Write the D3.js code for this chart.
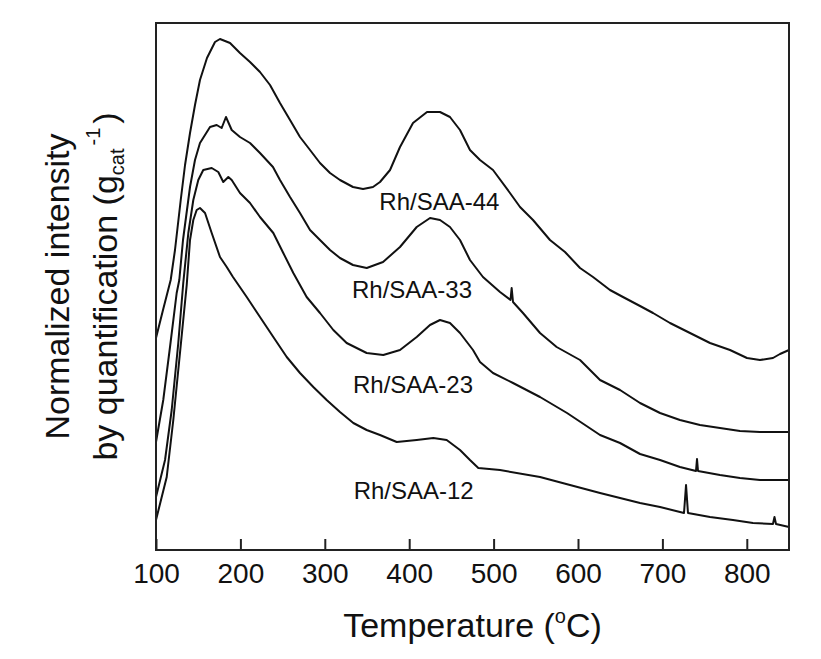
<!DOCTYPE html>
<html>
<head>
<meta charset="utf-8">
<script src="https://cdn.jsdelivr.net/npm/d3@7"></script>
<style>
  html, body { margin: 0; padding: 0; background: #fff; }
  svg { display: block; font-family: "Liberation Sans", Arial, sans-serif; }
</style>
</head>
<body>
<svg id="chart" width="821" height="659"></svg>
<script>
// ---- data (temperature °C, normalized intensity, arbitrary units) ----
const xTicks = [100, 200, 300, 400, 500, 600, 700, 800];
const seriesNames = ["Rh/SAA-44", "Rh/SAA-33", "Rh/SAA-23", "Rh/SAA-12"];

const saa44 = [
  [100,2.12],[108.3,2.40],[117.4,2.70],[122.5,3.00],[129.3,3.50],[134.4,3.85],[140.3,4.17],
  [146.2,4.45],[152.1,4.70],[160.4,4.92],[169.9,5.08],[175.8,5.11],[181.8,5.09],[187.7,5.07],
  [199.5,4.97],[211.4,4.88],[223.2,4.78],[235.1,4.65],[246.9,4.47],[258.8,4.30],[270.6,4.13],
  [282.5,4.00],[294.3,3.87],[306.2,3.77],[318.0,3.70],[333.4,3.63],[345.3,3.61],[357.1,3.63],
  [365.4,3.68],[377.3,3.80],[389.1,4.03],[404.5,4.27],[421.1,4.38],[436.5,4.38],[448.3,4.33],
  [460.2,4.20],[472.0,4.00],[483.9,3.90],[499.3,3.80],[519.4,3.57],[531.3,3.43],[546.7,3.30],
  [566.8,3.10],[584.6,2.98],[602.4,2.82],[617.8,2.73],[637.9,2.60],[653.3,2.53],[673.5,2.44],
  [688.9,2.37],[709.0,2.27],[732.7,2.17],[756.4,2.07],[780.1,2.00],[800.2,1.92],[815.6,1.90],
  [831.0,1.92],[839.3,1.96],[850,2.00]
];
const saa33 = [
  [100,1.08],[108.6,1.50],[116.6,2.03],[124.5,2.57],[127.6,2.70],[132.0,3.10],[140.3,3.63],
  [146.2,3.90],[152.1,4.07],[164.0,4.23],[171.9,4.25],[177.8,4.22],[182.9,4.33],[189.7,4.20],
  [199.5,4.13],[211.4,4.07],[223.2,3.97],[238.6,3.83],[246.9,3.70],[258.8,3.53],[270.6,3.37],
  [282.5,3.20],[294.3,3.10],[306.2,3.00],[318.0,2.92],[333.4,2.85],[349.7,2.82],[369.0,2.88],
  [389.1,3.03],[408.9,3.23],[424.7,3.32],[436.5,3.30],[448.3,3.23],[460.2,3.10],[472.0,2.90],
  [487.4,2.73],[507.6,2.58],[520.0,2.50],[521.4,2.62],[523.0,2.48],[534.8,2.37],[555.0,2.17],
  [574.7,2.03],[602.4,1.90],[626.1,1.70],[649.8,1.60],[673.5,1.47],[697.2,1.37],[720.8,1.30],
  [744.5,1.25],[768.2,1.22],[791.9,1.19],[815.6,1.18],[850,1.18]
];
const saa23 = [
  [100,0.53],[110.7,0.90],[118.6,1.40],[126.4,2.07],[132.3,2.67],[138.3,3.17],[144.2,3.50],
  [150.1,3.70],[156.0,3.80],[166.0,3.82],[173.8,3.78],[179.7,3.68],[185.7,3.73],[189.7,3.70],
  [199.5,3.57],[211.4,3.47],[223.2,3.33],[239.0,3.17],[250.8,2.97],[262.7,2.77],[278.5,2.53],
  [294.3,2.37],[310.1,2.20],[325.9,2.07],[349.6,1.97],[369.3,1.95],[389.1,2.00],[408.9,2.13],
  [424.6,2.25],[436.5,2.30],[448.3,2.27],[460.2,2.17],[475.6,2.00],[483.9,1.88],[499.3,1.77],
  [523.0,1.67],[555.0,1.53],[587.0,1.37],[626.1,1.15],[649.8,1.07],[673.5,0.96],[697.2,0.90],
  [720.8,0.83],[739.8,0.79],[741.0,0.91],[742.2,0.79],[768.2,0.75],[791.9,0.72],[815.6,0.70],
  [850,0.70]
];
const saa12 = [
  [100,0.30],[112.7,0.73],[120.5,1.30],[128.4,1.97],[136.4,2.65],[140.3,3.10],[144.2,3.30],
  [148.2,3.40],[152.1,3.42],[158.1,3.37],[166.0,3.17],[175.8,2.93],[183.8,2.83],[191.2,2.73],
  [207.5,2.53],[223.2,2.33],[239.0,2.13],[254.9,1.93],[270.6,1.77],[286.4,1.63],[302.2,1.50],
  [318.0,1.38],[333.8,1.27],[349.6,1.20],[365.4,1.15],[385.2,1.08],[408.9,1.10],[428.6,1.12],
  [444.4,1.10],[460.2,1.00],[472.0,0.90],[481.9,0.82],[507.6,0.80],[555.0,0.73],[590.5,0.65],
  [626.1,0.57],[649.8,0.52],[673.5,0.47],[697.2,0.43],[725.6,0.37],[728.0,0.65],[730.3,0.37],
  [756.4,0.33],[783.6,0.30],[807.3,0.27],[831.0,0.26],[832.8,0.33],[834.6,0.26],[850,0.23]
];
const seriesData = [saa44, saa33, saa23, saa12];
// label anchors in data coordinates (temperature, intensity)
const labelAnchors = [[364.6, 3.40], [332.2, 2.52], [333.4, 1.57], [334.2, 0.51]];

// ---- chart ----
const svg = d3.select("#chart");
const mLeft = 156, mRight = 789, mTop = 23, mBottom = 550;

const x = d3.scaleLinear().domain([100, 850]).range([mLeft, mRight]);
const y = d3.scaleLinear().domain([0, 5.27]).range([mBottom, mTop]);

const line = d3.line().x(d => x(d[0])).y(d => y(d[1]));

const ink = "#111";

svg.append("g")
  .selectAll("path")
  .data(seriesData)
  .join("path")
  .attr("d", line)
  .attr("fill", "none")
  .attr("stroke", ink)
  .attr("stroke-width", 2)
  .attr("stroke-linejoin", "round");

// frame
svg.append("rect")
  .attr("x", mLeft).attr("y", mTop)
  .attr("width", mRight - mLeft).attr("height", mBottom - mTop)
  .attr("fill", "none").attr("stroke", "#222").attr("stroke-width", 2);

// bottom axis
const xAxis = d3.axisBottom(x).tickValues(xTicks).tickSizeInner(-11).tickSizeOuter(0).tickPadding(13)
  .tickFormat(d3.format("d"));
const gx = svg.append("g").attr("transform", `translate(0,${mBottom})`).call(xAxis);
gx.select(".domain").remove();
gx.selectAll(".tick line").attr("stroke", "#222").attr("stroke-width", 2);
gx.selectAll(".tick text").attr("fill", ink).attr("font-size", 28)
  .attr("font-family", "'Liberation Sans', Arial, sans-serif");

// series labels
svg.append("g")
  .selectAll("text")
  .data(seriesNames)
  .join("text")
  .attr("x", (d, i) => x(labelAnchors[i][0]))
  .attr("y", (d, i) => y(labelAnchors[i][1]))
  .attr("font-size", 24)
  .attr("fill", ink)
  .text(d => d);

// x title
const xt = svg.append("text")
  .attr("x", (mLeft + mRight) / 2).attr("y", 637)
  .attr("text-anchor", "middle").attr("font-size", 34).attr("fill", ink);
xt.append("tspan").text("Temperature (");
xt.append("tspan").attr("font-size", 20).attr("dy", -14).text("o");
xt.append("tspan").attr("dy", 14).text("C)");

// y title (two lines)
const cy = (mTop + mBottom) / 2;
svg.append("text")
  .attr("transform", `translate(69,${cy}) rotate(-90)`)
  .attr("text-anchor", "middle").attr("font-size", 34).attr("fill", ink)
  .text("Normalized intensity");
const yt2 = svg.append("text")
  .attr("transform", `translate(117,${cy}) rotate(-90)`)
  .attr("text-anchor", "middle").attr("font-size", 34).attr("fill", ink);
yt2.append("tspan").text("by quantification (g");
yt2.append("tspan").attr("font-size", 20).attr("dy", 7).text("cat");
yt2.append("tspan").attr("font-size", 20).attr("dy", -24).attr("dx", 3).text("-1");
yt2.append("tspan").attr("dy", 17).attr("dx", 4).text(")");
</script>
</body>
</html>
